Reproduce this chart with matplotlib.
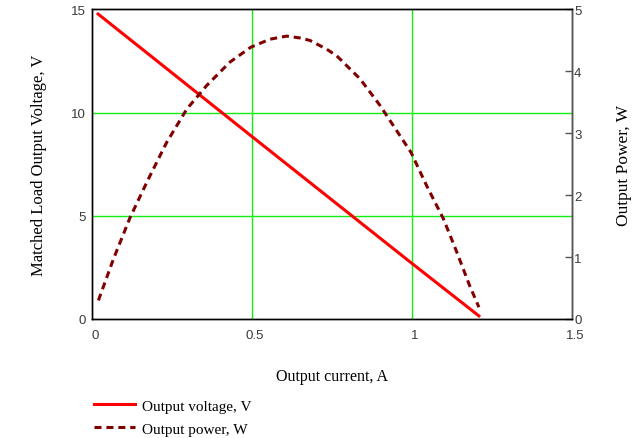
import matplotlib.pyplot as plt
from matplotlib.transforms import ScaledTranslation

plt.rcParams['font.family'] = ['Liberation Serif', 'DejaVu Serif']

# output voltage, V vs current, A
current_v = [0.019, 0.5, 1.0, 1.209]
voltage = [14.78, 8.84, 2.69, 0.15]

# output power, W vs current, A
current_p = [0.02, 0.067, 0.119, 0.176, 0.233, 0.296, 0.358, 0.431, 0.496,
             0.556, 0.608, 0.65, 0.681, 0.733, 0.765, 0.8375, 0.9, 0.9625,
             0.997, 1.046, 1.098, 1.14, 1.18, 1.209]
power = [0.30, 0.97, 1.64, 2.26, 2.85, 3.39, 3.77, 4.15, 4.39,
         4.52, 4.57, 4.54, 4.50, 4.36, 4.25, 3.88, 3.45, 2.96,
         2.69, 2.15, 1.62, 1.08, 0.54, 0.19]

x_ticks = [0, 0.5, 1, 1.5]
x_tick_labels = ['0', '0.5', '1', '1.5']
v_ticks = [0, 5, 10, 15]
p_ticks = [0, 1, 2, 3, 4, 5]

fig = plt.figure(figsize=(6.43, 4.39), dpi=100)
ax = fig.add_axes([0.1431, 0.2711, 0.7465, 0.7050])
ax2 = ax.twinx()

grid = '#11ee11'
for v in [0.5, 1.0]:
    ax.axvline(v, color=grid, lw=1, zorder=0)
for v in [5, 10]:
    ax.axhline(v, color=grid, lw=1, zorder=0)

l1, = ax.plot(current_v, voltage, color='#ff0000', lw=2.2, label='Output voltage, V')
l2, = ax2.plot(current_p, power, color='#800000', lw=2.2, ls=(0, (2.3, 1.6)),
               label='Output power, W')

ax.set_xlim(0, 1.5)
ax.set_ylim(0, 15)
ax2.set_ylim(0, 5)
ax.set_xticks(x_ticks)
ax.set_xticklabels(x_tick_labels)
ax.set_yticks(v_ticks)
ax2.set_yticks(p_ticks)

tc = '#3a3a3a'
tick_font = {'family': 'Liberation Sans', 'size': 9.5}
ax.tick_params(axis='x', length=0, colors=tc, pad=7)
ax.tick_params(axis='y', length=0, colors=tc, pad=4.5)
ax2.tick_params(axis='y', direction='in', length=5, width=1, colors=tc, pad=1.5)
ax2.tick_params(axis='y', color='#555555')
shift = ScaledTranslation(3 / 100, 0, fig.dpi_scale_trans)
for t in ax.get_xticklabels():
    t.set_fontfamily(tick_font['family'])
    t.set_fontsize(tick_font['size'])
    t.set_transform(t.get_transform() + shift)
for t in ax.get_yticklabels() + ax2.get_yticklabels():
    t.set_fontfamily(tick_font['family'])
    t.set_fontsize(tick_font['size'])
for a in (ax, ax2):
    for s in a.spines.values():
        s.set_color('black')
        s.set_linewidth(1)
ax2.spines['right'].set_color('#555555')

ax.set_xlabel('Output current, A', fontsize=11.5, labelpad=19.5)
ax.set_ylabel('Matched Load Output Voltage, V', fontsize=12, labelpad=17)
ax2.set_ylabel('Output Power, W', fontsize=12.5, labelpad=25)

fig.legend(handles=[l1, l2], loc='upper left', bbox_to_anchor=(0.137, 0.103),
           frameon=False, fontsize=11, handlelength=2.7, handletextpad=0.45,
           labelspacing=0.62, borderaxespad=0)

fig.savefig('out.png', dpi=100)
